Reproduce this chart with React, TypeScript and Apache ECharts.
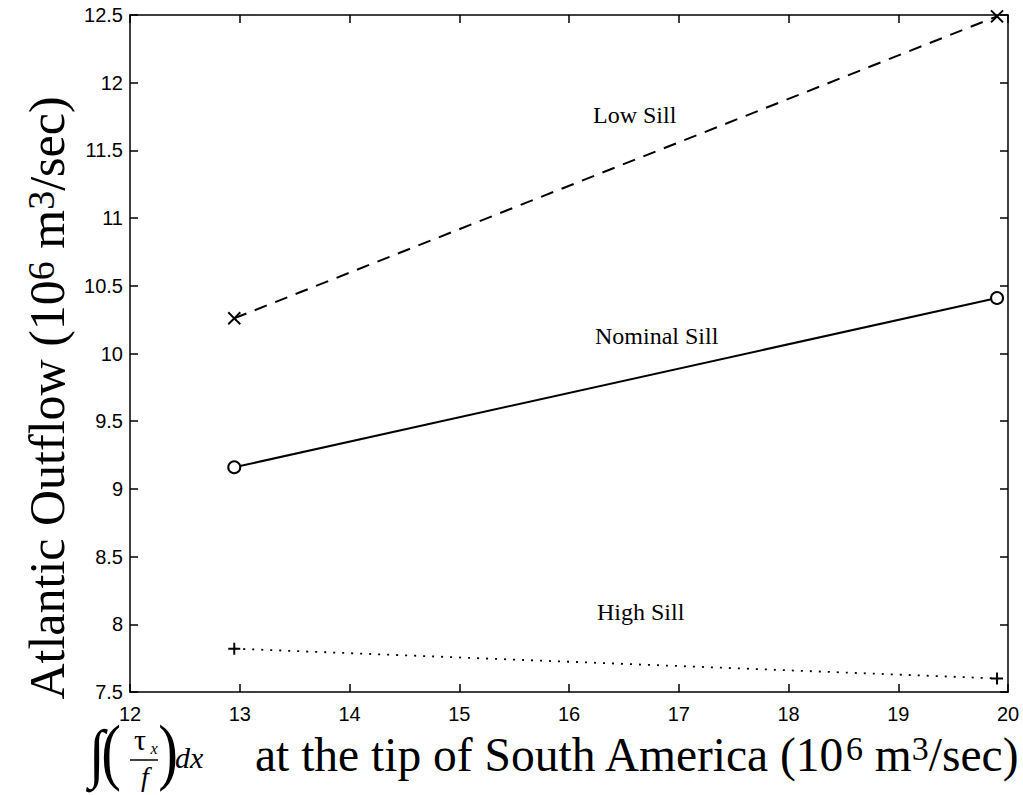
import React, { useEffect, useRef } from "react";
import * as echarts from "echarts";

// ---- data ----
const xRange = [12, 20];
const yRange = [7.5, 12.5];
const xInterval = 1;
const yInterval = 0.5;
const seriesNames = ["Low Sill", "Nominal Sill", "High Sill"];
const lowSill: number[][] = [
  [12.95, 10.26],
  [19.9, 12.49],
];
const nominalSill: number[][] = [
  [12.95, 9.16],
  [19.9, 10.41],
];
const highSill: number[][] = [
  [12.95, 7.82],
  [19.9, 7.6],
];
const yTitle = ["Atlantic Outflow (10", "6", " m", "3", "/sec)"];
const xTitle = ["at the tip of South America (10", "6", " m", "3", "/sec)"];

const SERIF = "'Liberation Serif', 'Times New Roman', serif";
const SANS = "'Liberation Sans', Arial, Helvetica, sans-serif";

const PLUS = "path://M5,0L7,0L7,5L12,5L12,7L7,7L7,12L5,12L5,7L0,7L0,5L5,5Z";
const CROSS = "path://M5.3,0L6.7,0L6.7,5.3L12,5.3L12,6.7L6.7,6.7L6.7,12L5.3,12L5.3,6.7L0,6.7L0,5.3L5.3,5.3Z";

function richTitle(parts: string[]) {
  return parts.map((p, i) => (i % 2 === 0 ? `{n|${p}}` : `{s|${p}}`)).join("");
}

export default function App() {
  const ref = useRef<HTMLDivElement>(null);
  useEffect(() => {
    if (!ref.current) return;
    const chart = echarts.init(ref.current, null, { renderer: "svg" });
    const axisLine = { show: true, lineStyle: { color: "#000", width: 1.5 } };
    const axisTick = { show: true, inside: true, length: 8, lineStyle: { color: "#000", width: 1.5 } };
    const xRich = {
      n: { fontSize: 47.5, fontFamily: SERIF, color: "#000", verticalAlign: "bottom" as const },
      s: { fontSize: 34, fontFamily: SERIF, color: "#000", verticalAlign: "top" as const },
    };
    const yRich = {
      n: { fontSize: 50, fontFamily: SERIF, color: "#000", verticalAlign: "bottom" as const },
      s: { fontSize: 38, fontFamily: SERIF, color: "#000", verticalAlign: "top" as const },
    };
    const option: any = {
      animation: false,
      backgroundColor: "#fff",
      textStyle: { fontFamily: SANS },
      grid: { left: 130, right: 15, top: 15, bottom: 103, containLabel: false },
      xAxis: [
        {
          type: "value",
          min: xRange[0],
          max: xRange[1],
          interval: xInterval,
          axisLine,
          axisTick,
          splitLine: { show: false },
          axisLabel: { color: "#000", fontSize: 20, fontFamily: SANS, margin: 12 },
        },
        {
          type: "value",
          position: "top",
          min: xRange[0],
          max: xRange[1],
          interval: xInterval,
          axisLine,
          axisTick,
          splitLine: { show: false },
          axisLabel: { show: false },
        },
      ],
      yAxis: [
        {
          type: "value",
          min: yRange[0],
          max: yRange[1],
          interval: yInterval,
          axisLine,
          axisTick,
          splitLine: { show: false },
          axisLabel: { color: "#000", fontSize: 20, fontFamily: SANS, margin: 7 },
        },
        {
          type: "value",
          position: "right",
          min: yRange[0],
          max: yRange[1],
          interval: yInterval,
          axisLine,
          axisTick,
          splitLine: { show: false },
          axisLabel: { show: false },
        },
      ],
      series: [
        {
          name: seriesNames[0],
          type: "line",
          data: lowSill,
          clip: false,
          symbol: CROSS,
          symbolRotate: 45,
          symbolSize: 17,
          itemStyle: { color: "#000", borderWidth: 0 },
          lineStyle: { color: "#000", width: 2, type: [13, 9] },
        },
        {
          name: seriesNames[1],
          type: "line",
          data: nominalSill,
          clip: false,
          symbol: "emptyCircle",
          symbolSize: 12,
          itemStyle: { color: "#000", borderWidth: 1.5 },
          lineStyle: { color: "#000", width: 2 },
        },
        {
          name: seriesNames[2],
          type: "line",
          data: highSill,
          clip: false,
          symbol: PLUS,
          symbolSize: 12,
          itemStyle: { color: "#000", borderWidth: 0 },
          lineStyle: { color: "#000", width: 1.8, type: [2, 7] },
        },
      ],
      graphic: [
        // series labels
        { type: "text", left: 593, top: 103, style: { text: seriesNames[0], fontSize: 24, fontFamily: SERIF, fill: "#000" } },
        { type: "text", left: 595, top: 324, style: { text: seriesNames[1], fontSize: 24, fontFamily: SERIF, fill: "#000" } },
        { type: "text", left: 597, top: 600, style: { text: seriesNames[2], fontSize: 24, fontFamily: SERIF, fill: "#000" } },
        // y title
        {
          type: "text",
          x: 47,
          y: 398,
          rotation: Math.PI / 2,
          style: {
            text: richTitle(yTitle),
            rich: yRich,
            align: "center",
            verticalAlign: "middle",
          },
        },
        // x title
        {
          type: "text",
          x: 255,
          y: 755,
          style: {
            text: richTitle(xTitle),
            rich: xRich,
            align: "left",
            verticalAlign: "middle",
          },
        },
        // integral expression
        { type: "text", x: 97, y: 753, scaleY: 1.12, style: { text: "\u222B", fontSize: 58, fontFamily: SERIF, fill: "#000", align: "center", verticalAlign: "middle" } },
        { type: "text", x: 111, y: 751, scaleX: 0.8, style: { text: "(", fontSize: 74, fontFamily: SERIF, fill: "#000", align: "center", verticalAlign: "middle" } },
        { type: "text", x: 140, y: 739, style: { text: "\u03C4", fontSize: 30, fontFamily: SERIF, fill: "#000", align: "center", verticalAlign: "middle" } },
        { type: "text", x: 154, y: 748, style: { text: "x", fontSize: 16, fontStyle: "italic", fontFamily: SERIF, fill: "#000", align: "center", verticalAlign: "middle" } },
        { type: "line", shape: { x1: 130, y1: 760, x2: 158, y2: 760 }, style: { stroke: "#000", lineWidth: 1.5 } },
        { type: "text", x: 145, y: 776, style: { text: "f", fontSize: 28, fontStyle: "italic", fontFamily: SERIF, fill: "#000", align: "center", verticalAlign: "middle" } },
        { type: "text", x: 168, y: 751, scaleX: 0.8, style: { text: ")", fontSize: 74, fontFamily: SERIF, fill: "#000", align: "center", verticalAlign: "middle" } },
        { type: "text", x: 175, y: 757, style: { text: "dx", fontSize: 30, fontStyle: "italic", fontFamily: SERIF, fill: "#000", align: "left", verticalAlign: "middle" } },
      ],
    };
    chart.setOption(option);
    return () => chart.dispose();
  }, []);
  return (
    <div
      ref={ref}
      style={{ position: "fixed", left: 0, top: 0, width: 1023, height: 795, background: "#fff" }}
    />
  );
}
